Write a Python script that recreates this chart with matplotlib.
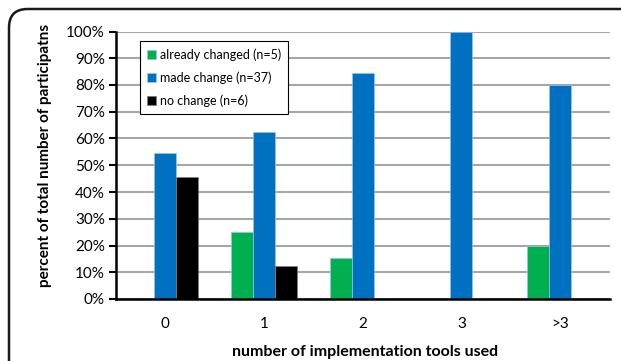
import numpy as np
import matplotlib.pyplot as plt
from matplotlib.patches import FancyBboxPatch

plt.rcParams['font.family'] = ['Lato', 'DejaVu Sans']

# share of participants per number of tools, by change status
tools = ['0', '1', '2', '3', '>3']
already_changed = [0.0, 0.25, 0.154, 0.0, 0.20]
made_change = [0.545, 0.625, 0.846, 1.0, 0.80]
no_change = [0.455, 0.125, 0.0, 0.0, 0.0]
series_names = ['already changed (n=5)', 'made change (n=37)', 'no change (n=6)']
pct_ticks = np.arange(0, 1.01, 0.1)

fig = plt.figure(figsize=(6.21, 3.61), dpi=100)
ax = fig.add_axes([116/621, 1 - 299/361, (609.5 - 116)/621, (299 - 31.5)/361])

x = np.arange(len(tools))
w = 0.223
ax.bar(x - w, already_changed, w, color='#00B050', edgecolor='#9DC3E6', lw=0.5,
       label=series_names[0], zorder=3)
ax.bar(x, made_change, w, color='#0070C0', edgecolor='#9DC3E6', lw=0.5,
       label=series_names[1], zorder=3)
ax.bar(x + w, no_change, w, color='black', edgecolor='#808080', lw=0.5,
       label=series_names[2], zorder=3)

ax.set_xlim(-0.5, 4.5)
ax.set_ylim(0, 1)
ax.set_yticks(pct_ticks)
ax.set_yticklabels(['%d%%' % round(v * 100) for v in pct_ticks], fontsize=11)
ax.set_xticks(x)
ax.set_xticklabels(tools, fontsize=11)
ax.tick_params(axis='x', length=0, pad=13)
ax.tick_params(axis='y', length=5, width=1.5, pad=3)
ax.grid(axis='y', color='#A6A6A6', lw=1.5, zorder=0)
for s in ['top', 'right']:
    ax.spines[s].set_visible(False)
for s in ['left', 'bottom']:
    ax.spines[s].set_linewidth(1.8)
    ax.spines[s].set_zorder(4)

fig.text(45/621, 1 - 155/361, 'percent of total number of participatns', rotation=90,
         ha='center', va='center', fontsize=11, fontweight='bold')
fig.text(365/621, 1 - 352/361, 'number of implementation tools used',
         ha='center', va='center', fontsize=11.5, fontweight='bold')

leg = ax.legend(loc='upper left', bbox_to_anchor=(134/621, 1 - 35/361),
                bbox_transform=fig.transFigure, fontsize=9, frameon=True,
                fancybox=False, edgecolor='black', framealpha=1,
                handlelength=0.7, handleheight=0.7, handletextpad=0.3,
                labelspacing=0.85, borderpad=0.55)
leg.get_frame().set_linewidth(0.8)
leg.set_zorder(5)

# rounded outer frame, running off the right and bottom edges
frame = FancyBboxPatch((9/621, -0.2), 1.2, 1 - 9/361 + 0.2,
                       boxstyle='round,pad=0,rounding_size=0.03',
                       transform=fig.transFigure, fill=False,
                       edgecolor='#1a1a1a', lw=1.8, mutation_aspect=621/361)
fig.patches.append(frame)

fig.savefig('out.png', dpi=100)
